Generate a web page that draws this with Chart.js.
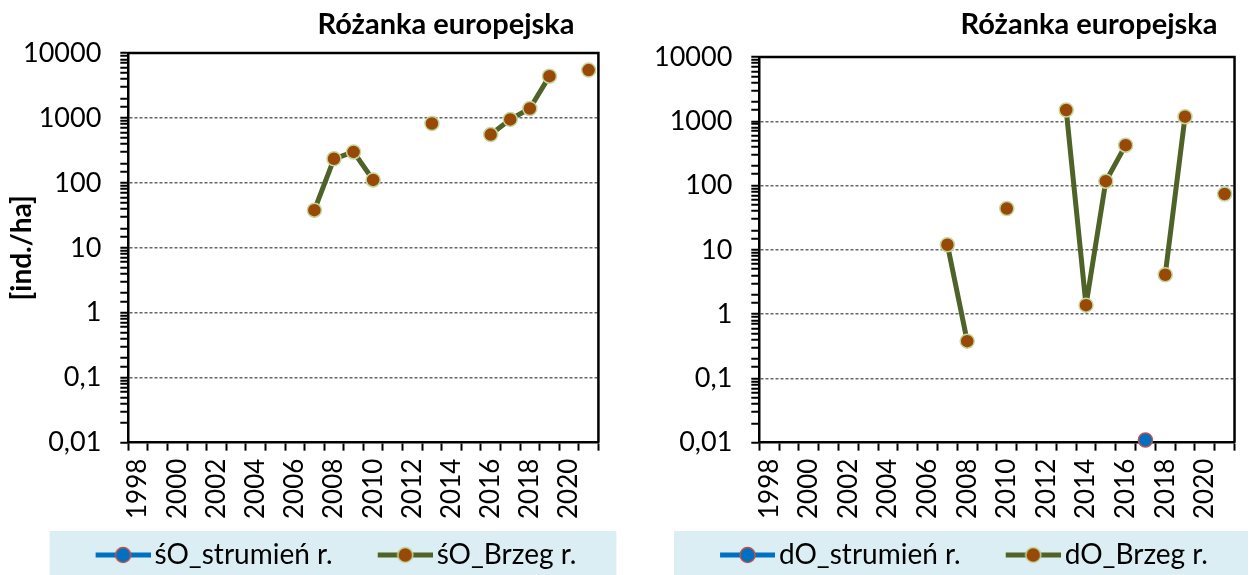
<!DOCTYPE html>
<html>
<head>
<meta charset="utf-8">
<script src="https://cdn.jsdelivr.net/npm/chart.js@4.4.1/dist/chart.umd.min.js"></script>
<style>
html, body { margin: 0; padding: 0; background: #fff; }
#wrap { position: relative; width: 1256px; height: 575px; overflow: hidden; }
.box { position: absolute; top: 0; height: 575px; overflow: hidden; }
#boxL { left: 0; width: 628px; }
#boxR { left: 628px; width: 628px; }
</style>
</head>
<body>
<div id="wrap">
  <div class="box" id="boxL"><canvas id="chartL" width="628" height="575"></canvas></div>
  <div class="box" id="boxR"><canvas id="chartR" width="636" height="575"></canvas></div>
</div>
<script>
// lata (kategorie osi X)
const years = ['1998','1999','2000','2001','2002','2003','2004','2005','2006','2007','2008','2009',
               '2010','2011','2012','2013','2014','2015','2016','2017','2018','2019','2020','2021'];
const xTickLabels = ['1998','','2000','','2002','','2004','','2006','','2008','',
                     '2010','','2012','','2014','','2016','','2018','','2020',''];
const yTickValues = [0.01, 0.1, 1, 10, 100, 1000, 10000];
const yTickLabels = ['0,01', '0,1', '1', '10', '100', '1000', '10000'];

const chartTitle = 'Różanka europejska';
const yTitle = '[ind./ha]';

// śO - lewy wykres
const soStrumien = [null,null,null,null,null,null,null,null,null,null,null,null,
                    null,null,null,null,null,null,null,null,null,null,null,null];
const soBrzeg    = [null,null,null,null,null,null,null,null,null,38,235,300,
                    111,null,null,822,null,null,555,950,1400,4400,null,5450];

// dO - prawy wykres
const doStrumien = [null,null,null,null,null,null,null,null,null,null,null,null,
                    null,null,null,null,null,null,null,0.011,null,null,null,null];
const doBrzeg    = [null,null,null,null,null,null,null,null,null,12,0.38,null,
                    44,null,null,1500,1.38,117,425,null,4.1,1180,null,74];

const FONT = 'Lato';
const blue = '#0070C0', red = '#C0504D';
const olive = '#4F6228', brown = '#984807', lightGreen = '#C3D69B';

// ikonka legendy: linia + kółko
// box legendy ma 76px, linia 55px kończy się 10px za boxem (tuż przed tekstem)
const LEG_PAD = 14;
const LEG_BOX = 76;
const LINE_START = LEG_BOX - 45; // przesunięcie początku linii względem lewej krawędzi pozycji
function legendIcon(lineColor, fill, border) {
    const c = document.createElement('canvas');
    c.width = 96; c.height = 20;
    const g = c.getContext('2d');
    const x0 = 41;
    g.strokeStyle = lineColor; g.lineWidth = 5;
    g.beginPath(); g.moveTo(x0, 10); g.lineTo(x0 + 55, 10); g.stroke();
    g.beginPath(); g.arc(x0 + 27.5, 10, 7.5, 0, Math.PI * 2);
    g.fillStyle = fill; g.fill();
    g.lineWidth = 1.5; g.strokeStyle = border; g.stroke();
    return c;
}
const icons = [legendIcon(blue, blue, red), legendIcon(olive, brown, lightGreen)];

// tytuł w dowolnym miejscu
const sideTitle = {
    id: 'sideTitle',
    afterDraw(chart, args, opts) {
        const ctx = chart.ctx;
        ctx.save();
        ctx.font = 'bold 29px ' + FONT;
        ctx.fillStyle = '#000';
        ctx.textAlign = 'center';
        ctx.textBaseline = 'middle';
        ctx.fillText(opts.text, opts.x, opts.y);
        ctx.restore();
    }
};

// ramka (góra + prawo)
const frame = {
    id: 'frame',
    beforeDatasetsDraw(chart) {
        const { ctx, chartArea: a } = chart;
        ctx.save();
        ctx.strokeStyle = '#000';
        ctx.lineWidth = 2.5;
        ctx.beginPath();
        ctx.moveTo(a.left - 1, a.top);
        ctx.lineTo(a.right, a.top);
        ctx.lineTo(a.right, a.bottom);
        ctx.stroke();
        ctx.restore();
    }
};

// tło legendy + wyśrodkowanie
const legendBg = {
    id: 'legendBg',
    afterUpdate(chart, args, opts) {
        const lg = chart.legend;
        const hb = lg.legendHitBoxes;
        const a = hb[0].left + LINE_START;
        const last = hb[hb.length - 1];
        const b = last.left + last.width;
        const d = opts.center - (a + b) / 2;
        lg.left += d; lg.right += d;
        lg.adjustHitBoxes();
    },
    beforeDraw(chart, args, opts) {
        const lg = chart.legend;
        const hb = lg.legendHitBoxes;
        const last = hb[hb.length - 1];
        const x1 = hb[0].left + LINE_START - opts.padL;
        const x2 = last.left + last.width + opts.padR;
        const ctx = chart.ctx;
        ctx.save();
        ctx.fillStyle = '#DAEEF3';
        ctx.fillRect(x1, chart.height - 44, x2 - x1, 44);
        ctx.restore();
    }
};

function isMajor(v) {
    const l = Math.log10(v);
    return Math.abs(l - Math.round(l)) < 1e-6;
}

function makeChart(id, labels, data, opts) {
    const ctx = document.getElementById(id).getContext('2d');
    return new Chart(ctx, {
        type: 'line',
        data: {
            labels: years,
            datasets: [
                {
                    label: labels[0], data: data[0],
                    borderColor: blue, backgroundColor: blue, borderWidth: 5,
                    borderJoinStyle: 'round',
                    pointRadius: 7, pointHoverRadius: 7,
                    pointBackgroundColor: blue, pointBorderColor: red, pointBorderWidth: 1.5,
                    tension: 0, clip: false
                },
                {
                    label: labels[1], data: data[1],
                    borderColor: olive, backgroundColor: olive, borderWidth: 5,
                    borderJoinStyle: 'round',
                    pointRadius: 7, pointHoverRadius: 7,
                    pointBackgroundColor: brown, pointBorderColor: lightGreen, pointBorderWidth: 1.5,
                    tension: 0, clip: false
                }
            ]
        },
        options: {
            responsive: false,
            animation: false,
            events: [],
            layout: { padding: opts.padding },
            plugins: {
                title: { display: false },
                tooltip: { enabled: false },
                sideTitle: { text: chartTitle, x: opts.titleX, y: 25 },
                legendBg: { center: 336, padL: 46, padR: 40 },
                legend: {
                    position: 'bottom',
                    labels: {
                        usePointStyle: true,
                        pointStyleWidth: LEG_BOX,
                        padding: LEG_PAD,
                        color: '#000',
                        font: { family: FONT, size: 28 },
                        generateLabels: chart => {
                            const items = Chart.defaults.plugins.legend.labels.generateLabels(chart);
                            items.forEach((it, i) => { it.pointStyle = icons[i]; });
                            return items;
                        }
                    }
                }
            },
            scales: {
                x: {
                    type: 'category',
                    offset: true,
                    ticks: {
                        autoSkip: false, maxRotation: 90, minRotation: 90,
                        color: '#000', font: { family: FONT, size: 26 }, padding: 8,
                        callback: (v, i) => xTickLabels[i]
                    },
                    grid: { offset: true, drawOnChartArea: false, tickColor: '#000', tickLength: 8, tickWidth: 2 },
                    border: { color: '#000', width: 2.5 }
                },
                y: {
                    type: 'logarithmic',
                    min: 0.01, max: 10000,
                    title: {
                        display: opts.showYTitle, text: yTitle, color: '#000',
                        font: { family: FONT, size: 28, weight: 'bold', lineHeight: 1 },
                        padding: { top: 8, bottom: -32 }
                    },
                    ticks: {
                        autoSkip: false, color: '#000', font: { family: FONT, size: 27 }, padding: 19,
                        callback: v => {
                            const i = yTickValues.findIndex(t => Math.abs(t - v) / t < 1e-6);
                            return i >= 0 ? yTickLabels[i] : '';
                        }
                    },
                    grid: {
                        color: c => (c.tick && isMajor(c.tick.value) && c.tick.value > 0.011 && c.tick.value < 9999) ? '#666666' : 'rgba(0,0,0,0)',
                        lineWidth: 1.5, tickColor: '#000', tickLength: 8, tickWidth: 2
                    },
                    border: { color: '#000', width: 2.5, dash: [3, 2] }
                }
            }
        },
        plugins: [legendBg, frame, sideTitle]
    });
}

makeChart('chartL', ['śO_strumień r.', 'śO_Brzeg r.'], [soStrumien, soBrzeg],
    { padding: { top: 53, left: 0, right: 8, bottom: -4 }, titleX: 446, showYTitle: true });
makeChart('chartR', ['dO_strumień r.', 'dO_Brzeg r.'], [doStrumien, doBrzeg],
    { padding: { top: 57, left: 7, right: 0, bottom: -4 }, titleX: 461, showYTitle: false });
</script>
</body>
</html>
